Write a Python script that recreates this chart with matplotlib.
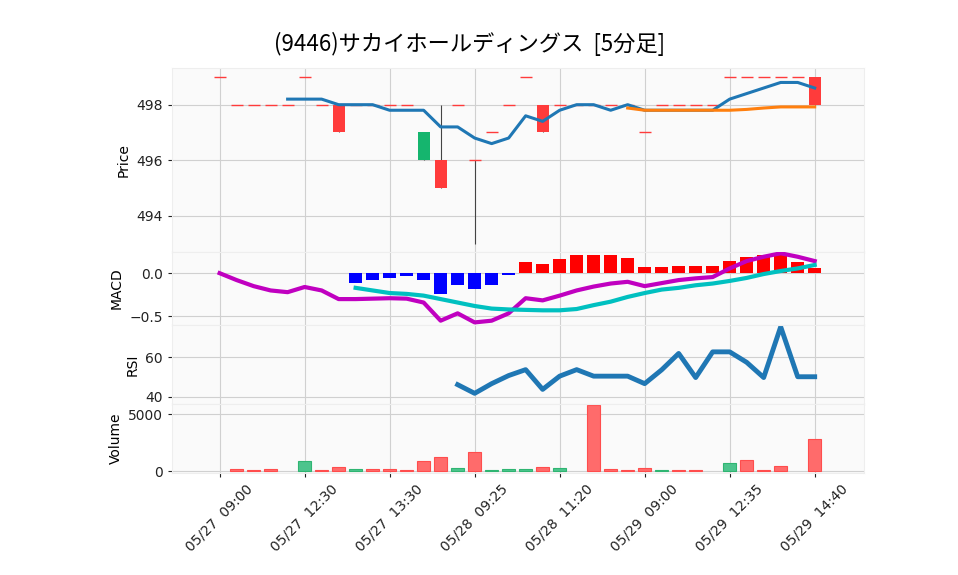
import matplotlib
matplotlib.use("Agg")
import matplotlib.pyplot as plt
import numpy as np

labels = ["05/27  09:00", "05/27  12:30", "05/27  13:30", "05/28  09:25",
          "05/28  11:20", "05/29  09:00", "05/29  12:35", "05/29  14:40"]
close = [499,498,498,498,498,499,498,497,498,498,498,498,497,495,498,496,497,498,
         499,497,498,498,498,498,498,497,498,498,498,498,499,499,499,499,499,498]
opn = [499,498,498,498,498,499,498,498,498,498,498,498,496,496,498,496,497,498,
       499,498,498,498,498,498,498,497,498,498,498,498,499,499,499,499,499,499]
high = [max(o, c) for o, c in zip(opn, close)]
low = [min(o, c) for o, c in zip(opn, close)]
high[13] = 498
low[15] = 493
ma5 = [None]*4 + [498.2,498.2,498.2,498.0,498.0,498.0,497.8,497.8,497.8,497.2,497.2,496.8,
       496.6,496.8,497.6,497.4,497.8,498.0,498.0,497.8,498.0,497.8,497.8,497.8,497.8,497.8,
       498.2,498.4,498.6,498.8,498.8,498.6]
ma25 = [None]*24 + [497.88,497.8,497.8,497.8,497.8,497.8,497.8,497.83,497.88,497.92,497.92,497.92]
volume = [0,230,145,230,0,925,145,405,230,230,230,145,925,1270,320,1700,145,230,230,405,320,
          0,5780,230,145,320,145,145,145,0,750,1010,145,490,0,2830]
macd = [0.0,-0.08,-0.15,-0.2,-0.22,-0.16,-0.2,-0.3,-0.3,-0.295,-0.29,-0.295,-0.34,-0.55,-0.465,
        -0.57,-0.55,-0.465,-0.29,-0.315,-0.26,-0.2,-0.155,-0.12,-0.1,-0.15,-0.115,-0.08,-0.06,
        -0.045,0.055,0.14,0.19,0.23,0.19,0.14]
signal = [None]*8 + [-0.17,-0.2,-0.23,-0.24,-0.26,-0.3,-0.34,-0.38,-0.41,-0.42,-0.425,-0.43,-0.43,
          -0.415,-0.37,-0.33,-0.275,-0.23,-0.19,-0.17,-0.14,-0.12,-0.09,-0.055,-0.01,0.025,0.055,0.095]
hist = [None]*8 + [-0.115,-0.08,-0.055,-0.03,-0.08,-0.245,-0.14,-0.185,-0.14,-0.02,0.13,0.105,0.165,
        0.205,0.205,0.205,0.177,0.07,0.07,0.083,0.083,0.083,0.14,0.19,0.21,0.21,0.13,0.06]
rsi = [None]*14 + [46.2,41.8,46.7,50.8,53.8,43.8,50.5,53.8,50.5,50.5,50.5,46.7,53.7,62,49.8,
       62.8,62.8,57.5,49.8,75.5,50.2,50.2]

n = len(close)
x = np.arange(n)
W, H = 958, 575
fig = plt.figure(figsize=(W/100, H/100), dpi=100)

def ax_at(top, bot):
    a = fig.add_axes([172/W, 1-bot/H, (864-172)/W, (bot-top)/H])
    a.set_facecolor("#fafafa")
    a.grid(True, color="#d0d0d0", lw=0.8)
    a.set_axisbelow(True)
    for s in a.spines.values():
        s.set_color("#eeeeee")
    a.set_xlim(-2.8, 37.9)
    a.tick_params(labelsize=10, colors="#222222", length=3)
    return a

ap = ax_at(68, 252)
am = ax_at(252, 325)
ar = ax_at(325, 404)
av = ax_at(404, 473)

RED, GREEN = "#ff3b3b", "#15b56e"
for i in range(n):
    col = GREEN if close[i] > opn[i] else RED
    if high[i] != low[i] or close[i] != opn[i]:
        ap.vlines(x[i], low[i], high[i], color="#444444", lw=0.8, zorder=2)
    if close[i] == opn[i]:
        ap.hlines(close[i], x[i]-0.35, x[i]+0.35, color=col, lw=1, zorder=3)
    else:
        ap.bar(x[i], close[i]-opn[i], bottom=opn[i], width=0.7, color=col, zorder=3)
ap.plot(x, [np.nan if v is None else v for v in ma5], color="#1f77b4", lw=2.2, zorder=4)
ap.plot(x, [np.nan if v is None else v for v in ma25], color="#ff7f0e", lw=2.2, zorder=4)
ap.set_ylim(492.7, 499.32)
ap.set_yticks([494, 496, 498])
ap.set_ylabel("Price", fontsize=10)

h = np.array([np.nan if v is None else v for v in hist])
am.bar(x, h, width=0.8, color=["#0000ff" if (v == v and v < 0) else "#ff0000" for v in h], zorder=2)
am.plot(x, macd, color="#c000c0", lw=3, zorder=3)
am.plot(x, [np.nan if v is None else v for v in signal], color="#00c0c0", lw=3, zorder=3)
am.set_ylim(-0.6, 0.245)
am.set_yticks([0.0, -0.5])
am.set_yticklabels(["0.0", "−0.5"])
am.set_ylabel("MACD", fontsize=10)

ar.plot(x, [np.nan if v is None else v for v in rsi], color="#1f77b4", lw=3.5)
ar.set_ylim(36.4, 76.4)
ar.set_yticks([60, 40])
ar.set_ylabel("RSI", fontsize=10)

vcol = ["#ff6b6b"] + [("#4dc48d" if close[i] > close[i-1] else "#ff6b6b") for i in range(1, n)]
ecol = ["#ff4d4d"] + [("#2fb572" if close[i] > close[i-1] else "#ff4d4d") for i in range(1, n)]
lws = [0.8 if v > 0 else 0 for v in volume]
av.bar(x, volume, width=0.8, color=vcol, edgecolor=ecol, linewidth=lws, zorder=2)
av.set_ylim(-150, 5900)
av.set_yticks([0, 5000])
av.set_ylabel("Volume", fontsize=10)

for a in (ap, am, ar, av):
    a.set_xticks(x[::5])
for a in (ap, am, ar):
    a.tick_params(axis="x", labelbottom=False, length=0)
av.set_xticklabels(labels, rotation=45, ha="center", fontsize=10)

fig.text(470/W, 1-44/H, "(9446)サカイホールディングス  [5分足]", ha="center", va="center",
         fontsize=16, fontfamily="Noto Sans CJK JP")
fig.savefig("out.png", dpi=100)
